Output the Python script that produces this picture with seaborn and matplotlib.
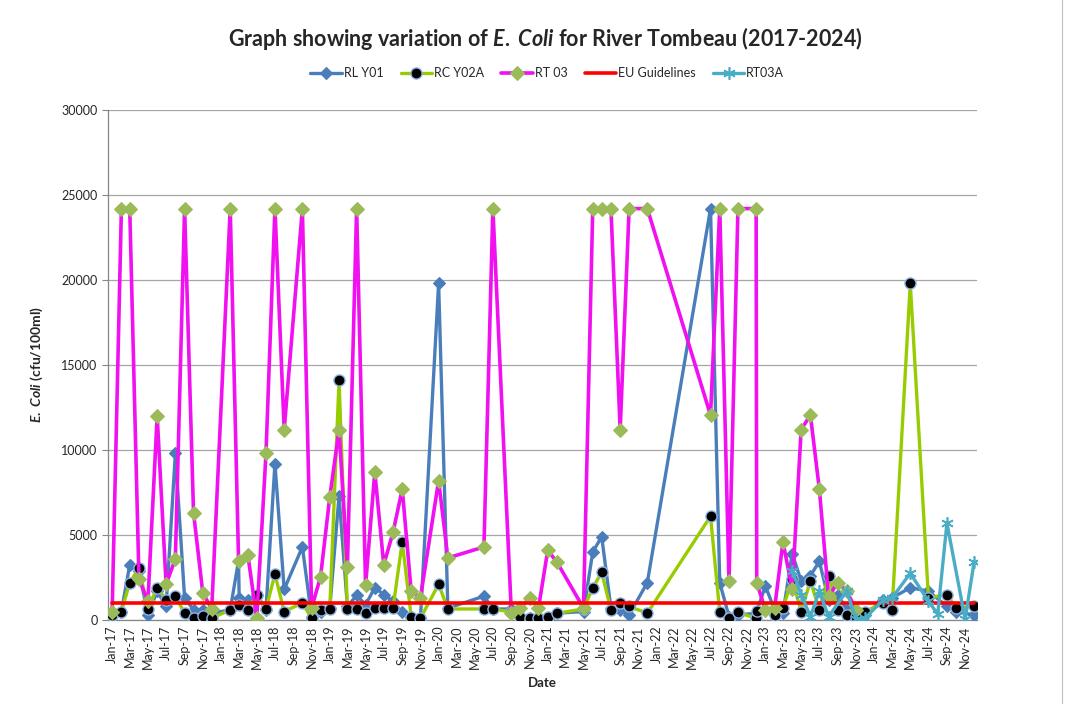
import pandas as pd
import matplotlib.pyplot as plt
import matplotlib.dates as mdates
import seaborn as sns

sns.set_style("white")
plt.rcParams['font.family'] = ['Lato', 'DejaVu Sans']
plt.rcParams['mathtext.fontset'] = 'custom'
plt.rcParams['mathtext.it'] = 'Lato:italic:bold'
plt.rcParams['mathtext.rm'] = 'Lato:bold'

# RL Y01
rl_dates = ['2017-01-01', '2017-02-01', '2017-03-01', '2017-04-01', '2017-05-01', '2017-06-01',
            '2017-07-01', '2017-08-01', '2017-09-01', '2017-10-01', '2017-11-01', '2017-12-01',
            '2018-02-01', '2018-03-01', '2018-03-03', '2018-04-01', '2018-05-01', '2018-06-01',
            '2018-07-01', '2018-08-01', '2018-10-01', '2018-11-01', '2018-12-01', '2019-01-01',
            '2019-02-01', '2019-03-01', '2019-04-01', '2019-05-01', '2019-06-01', '2019-07-01',
            '2019-08-01', '2019-09-01', '2019-10-01', '2019-11-01', '2020-01-01', '2020-02-01',
            '2020-06-01', '2020-07-01', '2020-09-01', '2020-10-01', '2020-11-01', '2020-12-01',
            '2021-01-01', '2021-02-01', '2021-05-01', '2021-06-01', '2021-07-01', '2021-08-01',
            '2021-09-01', '2021-10-01', '2021-12-01', '2022-07-01', '2022-08-01', '2022-09-01',
            '2022-10-01', '2022-12-01', '2023-01-01', '2023-02-01', '2023-03-01', '2023-04-01',
            '2023-05-01', '2023-06-01', '2023-07-01', '2023-08-01', '2023-09-01', '2023-10-01',
            '2023-11-01', '2023-12-01', '2024-02-01', '2024-03-01', '2024-05-01', '2024-07-01',
            '2024-09-01', '2024-10-01', '2024-12-01']
rl_values = [300, 500, 3250, 2900, 300, 1700,
             800, 9800, 1300, 600, 600, 400,
             600, 3500, 1300, 1200, 1500, 600,
             9200, 1800, 4300, 200, 500, 700,
             7300, 800, 1450, 900, 1900, 1500,
             1100, 450, 200, 100, 19800, 700,
             1400, 650, 650, 200, 100, 100,
             50, 400, 500, 4000, 4900, 700,
             600, 300, 2200, 24200, 2200, 200,
             300, 400, 2000, 600, 400, 3900,
             2300, 2600, 3450, 1200, 1500, 600,
             200, 300, 1200, 1300, 1900, 1700,
             800, 500, 300]

# RC Y02A
rc_dates = ['2017-01-01', '2017-02-01', '2017-03-01', '2017-04-01', '2017-05-01', '2017-06-01',
            '2017-07-01', '2017-08-01', '2017-09-01', '2017-10-01', '2017-11-01', '2017-12-01',
            '2018-02-01', '2018-03-01', '2018-04-01', '2018-05-01', '2018-06-01', '2018-07-01',
            '2018-08-01', '2018-10-01', '2018-11-01', '2018-12-01', '2019-01-01', '2019-02-01',
            '2019-03-01', '2019-04-01', '2019-05-01', '2019-06-01', '2019-07-01', '2019-08-01',
            '2019-09-01', '2019-10-01', '2019-11-01', '2020-01-01', '2020-02-01', '2020-06-01',
            '2020-07-01', '2020-09-01', '2020-10-01', '2020-11-01', '2020-12-01', '2021-01-01',
            '2021-02-01', '2021-05-01', '2021-06-01', '2021-07-01', '2021-08-01', '2021-09-01',
            '2021-10-01', '2021-12-01', '2022-07-01', '2022-08-01', '2022-09-01', '2022-10-01',
            '2022-12-01', '2022-12-03', '2023-02-01', '2023-03-01', '2023-04-01', '2023-05-01',
            '2023-06-01', '2023-07-01', '2023-08-01', '2023-09-01', '2023-10-01', '2023-11-01',
            '2023-12-01', '2024-02-01', '2024-03-01', '2024-05-01', '2024-07-01', '2024-09-01',
            '2024-10-01', '2024-12-01']
rc_values = [300, 500, 2200, 3050, 650, 1900,
             1200, 1400, 400, 100, 250, 100,
             600, 900, 600, 1500, 650, 2700,
             500, 1000, 100, 600, 650, 14100,
             650, 650, 400, 700, 700, 700,
             4600, 200, 100, 2100, 650, 650,
             620, 500, 200, 100, 100, 200,
             400, 650, 1900, 2800, 600, 1000,
             800, 400, 6100, 450, 100, 450,
             100, 550, 300, 700, 2400, 500,
             2300, 600, 2600, 600, 300, 200,
             500, 1000, 600, 19800, 1300, 1500,
             700, 800]

# RT 03
rt_dates = ['2017-01-01', '2017-02-01', '2017-03-01', '2017-04-01', '2017-05-01', '2017-06-01',
            '2017-07-01', '2017-08-01', '2017-09-01', '2017-10-01', '2017-11-01', '2017-12-01',
            '2018-02-01', '2018-03-01', '2018-04-01', '2018-05-01', '2018-06-01', '2018-07-01',
            '2018-08-01', '2018-10-01', '2018-11-01', '2018-12-01', '2019-01-01', '2019-02-01',
            '2019-03-01', '2019-04-01', '2019-05-01', '2019-06-01', '2019-07-01', '2019-08-01',
            '2019-09-01', '2019-10-01', '2019-11-01', '2020-01-01', '2020-02-01', '2020-06-01',
            '2020-07-01', '2020-09-01', '2020-10-01', '2020-11-01', '2020-12-01', '2021-01-01',
            '2021-02-01', '2021-05-01', '2021-06-01', '2021-07-01', '2021-08-01', '2021-09-01',
            '2021-10-01', '2021-12-01', '2022-07-01', '2022-08-01', '2022-09-01', '2022-10-01',
            '2022-12-01', '2022-12-03', '2023-01-01', '2023-02-01', '2023-03-01', '2023-04-01',
            '2023-05-01', '2023-06-01', '2023-07-01', '2023-08-01', '2023-09-01', '2023-10-01',
            '2023-11-01']
rt_values = [500, 24200, 24200, 2400, 1100, 12000,
             2100, 3600, 24200, 6300, 1600, 650,
             24200, 3500, 3850, 100, 9800, 24200,
             11200, 24200, 700, 2550, 7250, 11200,
             3100, 24200, 2050, 8700, 3250, 5150,
             7700, 1700, 1300, 8200, 3650, 4300,
             24200, 400, 700, 1300, 700, 4100,
             3400, 700, 24200, 24200, 24200, 11200,
             24200, 24200, 12050, 24200, 2300, 24200,
             24200, 2200, 600, 700, 4600, 1800,
             11200, 12050, 7700, 1400, 2200, 1700,
             600]

# EU Guidelines
eu_dates = ['2017-01-01', '2024-12-01']
eu_values = [1000, 1000]

# RT03A
rta_dates = ['2023-04-01', '2023-05-01', '2023-06-01', '2023-07-01', '2023-08-01', '2023-10-01',
             '2023-11-01', '2023-12-01', '2024-02-01', '2024-03-01', '2024-05-01', '2024-07-01',
             '2024-08-01', '2024-09-01', '2024-11-01', '2024-12-01']
rta_values = [2900, 1500, 200, 1700, 200, 1700,
              50, 100, 1200, 1300, 2750, 1100,
              350, 5700, 50, 3400]

fig = plt.figure(figsize=(10.67, 7.04), dpi=100)
ax = fig.add_axes([0.1012, 0.1193, 0.8145, 0.7245])

common = dict(ax=ax, estimator=None, sort=False)
sns.lineplot(x=pd.to_datetime(rl_dates), y=rl_values, color='#4A7EBB', linewidth=2.4,
             marker='D', markersize=6.5, markeredgecolor='#4A7EBB', markeredgewidth=0.8,
             label='RL Y01', zorder=3, **common)
sns.lineplot(x=pd.to_datetime(rc_dates), y=rc_values, color='#99CC00', linewidth=2.4,
             marker='o', markersize=8, markerfacecolor='black', markeredgecolor='#8DB4E2',
             markeredgewidth=1.0, label='RC Y02A', zorder=4, **common)
sns.lineplot(x=pd.to_datetime(rt_dates), y=rt_values, color='#F010F0', linewidth=2.6,
             marker='D', markersize=7, markerfacecolor='#9BBB59', markeredgecolor='#9BBB59',
             label='RT 03', zorder=5, **common)
sns.lineplot(x=pd.to_datetime(eu_dates), y=eu_values, color='#FF0000', linewidth=2.6,
             label='EU Guidelines', zorder=6, **common)
sns.lineplot(x=pd.to_datetime(rta_dates), y=rta_values, color='#4BACC6', linewidth=2.4,
             marker=(6, 2, 0), markersize=9, markeredgecolor='#4BACC6', markeredgewidth=1.2,
             label='RT03A', zorder=7, **common)

ax.set_ylim(0, 30000)
ax.set_yticks(range(0, 30001, 5000))
ax.set_xlim(pd.Timestamp('2016-12-18'), pd.Timestamp('2024-12-11'))
ax.xaxis.set_major_locator(mdates.MonthLocator(bymonth=(1, 3, 5, 7, 9, 11)))
ax.xaxis.set_major_formatter(mdates.DateFormatter('%b-%y'))
ax.tick_params(axis='x', labelrotation=90, labelsize=9, length=0, pad=4)
ax.tick_params(axis='y', labelsize=9, length=4, color='#868686', direction='out', left=True)
ax.yaxis.grid(True, color='#A6A6A6', linewidth=0.9)
ax.xaxis.grid(False)
ax.set_axisbelow(True)
for s in ['top', 'right']:
    ax.spines[s].set_visible(False)
for s in ['left', 'bottom']:
    ax.spines[s].set_color('#868686')
    ax.spines[s].set_linewidth(0.9)

ax.set_xlabel('Date', fontsize=9.5, fontweight='bold', labelpad=6)
ax.set_ylabel(r'$E.$ $Coli$ $\mathrm{(cfu/100ml)}$', fontsize=10, labelpad=12)

ax.legend_.remove()
handles, labels = ax.get_legend_handles_labels()
fig.legend(handles, labels, loc='center', bbox_to_anchor=(0.513, 0.896), ncol=5,
           frameon=False, fontsize=9, handlelength=2.5, handletextpad=0.15,
           columnspacing=1.4)

fig.text(0.511, 0.946, r'Graph showing variation of $E.$ $Coli$ for River Tombeau (2017-2024)',
         ha='center', va='center', fontsize=15.5, fontweight='bold')

fig.add_artist(plt.Line2D([0.9953, 0.9953], [0, 1], transform=fig.transFigure,
                          color='#BFBFBF', linewidth=0.8))

fig.savefig('out.png', dpi=100)
